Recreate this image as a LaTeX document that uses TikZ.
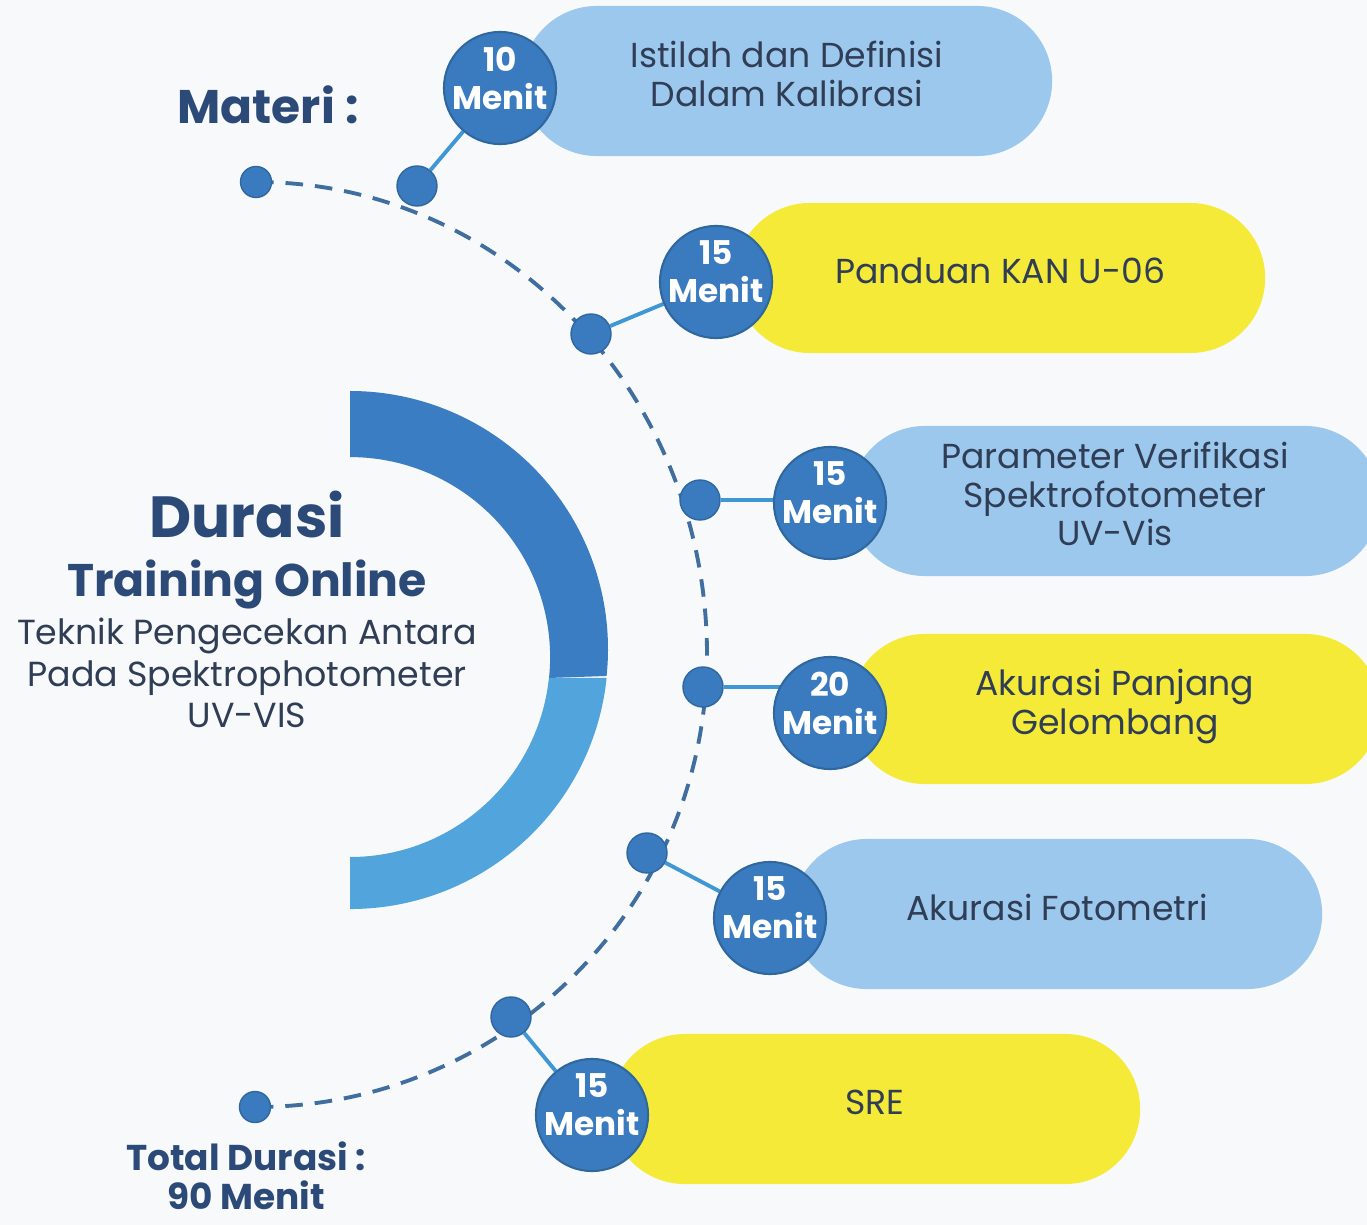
\documentclass[tikz,border=0pt]{standalone}
\usepackage{fontspec}
\setmainfont{Poppins}
\usetikzlibrary{backgrounds}
\definecolor{navy}{HTML}{2C4A78}
\definecolor{ink}{HTML}{2F3D55}
\definecolor{badgeblue}{HTML}{3A7BC0}
\definecolor{badgeline}{HTML}{2F679F}
\definecolor{paleblue}{HTML}{9DC8EE}
\definecolor{sunyellow}{HTML}{F5EA38}
\definecolor{ringdark}{HTML}{3A7DC3}
\definecolor{ringlight}{HTML}{52A4DD}
\definecolor{linkblue}{HTML}{3F97D6}
\definecolor{dashblue}{HTML}{3F6E9F}
\definecolor{paper}{HTML}{F8F9FB}

\begin{document}
\begin{tikzpicture}[
    x=0.01cm, y=0.01cm,
    pill/.style={rectangle, rounded corners=0.75cm, minimum width=5.3cm, minimum height=1.5cm, inner ysep=0pt, text=ink, align=center, font=\fontsize{9.85}{11}\selectfont, execute at end node={\rule[-4pt]{0pt}{4pt}}},
    bluepill/.style={pill, fill=paleblue},
    yellowpill/.style={pill, fill=sunyellow},
    badge/.style={circle, fill=badgeblue, draw=badgeline, line width=0.6pt, minimum size=1.12cm, inner sep=0pt, label={[badgetext]center:#1}},
    badgetext/.style={text=white, align=center, font=\fontsize{9.3}{10.8}\selectfont\bfseries, yshift=2.8pt},
    dot/.style={circle, fill=badgeblue, draw=badgeline, line width=0.4pt, minimum size=0.4cm, inner sep=0pt},
    enddot/.style={dot, minimum size=0.31cm},
    link/.style={linkblue, line width=1.1pt},
    dashline/.style={dashblue, line width=1.1pt, dash pattern=on 5pt off 3.4pt},
    title/.style={text=navy, align=center}
]
\begin{pgfonlayer}{background}
\path[use as bounding box, fill=paper] (0,0) rectangle (1367,-1225);
\end{pgfonlayer}
\clip (0,0) rectangle (1367,-1225);

\fill[ringdark] (350,-391) arc[start angle=90, end angle=-6, radius=258] -- (549,-678) arc[start angle=-6, end angle=90, radius=200] -- cycle;
\fill[ringlight] (606.6,-678) arc[start angle=-6, end angle=-90, radius=258] -- (350,-857) arc[start angle=-90, end angle=-6, radius=200] -- cycle;

\node[title, font=\fontsize{13.4}{15}\selectfont\bfseries] (materi) at (268,-105) {Materi :};
\node[title, font=\fontsize{16.5}{18}\selectfont\bfseries] (durasi) at (247,-514) {Durasi};
\node[title, font=\fontsize{13}{15}\selectfont\bfseries] (training) at (247,-584) {Training Online};
\node[title, text=ink, font=\fontsize{9.9}{11.7}\selectfont] (teknik) at (247,-673) {Teknik Pengecekan Antara\\Pada Spektrophotometer\\UV-VIS};
\node[title, font=\fontsize{10.2}{11.2}\selectfont\bfseries, inner sep=0pt] (total) at (246,-1176) {Total Durasi :\\90 Menit};

\node[bluepill] (istilah) at (787,-81) {Istilah dan Definisi\\Dalam Kalibrasi};
\node[yellowpill] (panduan) at (1000,-278) {Panduan KAN U-06};
\node[bluepill] (parameter) at (1115,-501) {Parameter Verifikasi\\Spektrofotometer\\UV-Vis};
\node[yellowpill] (panjang) at (1115,-709) {Akurasi Panjang\\Gelombang};
\node[bluepill] (fotometri) at (1057,-914) {Akurasi Fotometri};
\node[yellowpill] (sre) at (875,-1109) {SRE};

\node[badge={10\\Menit}] (b1) at (500,-88) {};
\node[badge={15\\Menit}] (b2) at (716,-282) {};
\node[badge={15\\Menit}] (b3) at (830,-503) {};
\node[badge={20\\Menit}] (b4) at (830,-713) {};
\node[badge={15\\Menit}] (b5) at (770,-918) {};
\node[badge={15\\Menit}] (b6) at (592,-1115) {};

\node[enddot] (start) at (256,-182) {};
\node[dot] (d1) at (417,-186) {};
\node[dot] (d2) at (591,-334) {};
\node[dot] (d3) at (700,-500) {};
\node[dot] (d4) at (703,-687) {};
\node[dot] (d5) at (647,-853) {};
\node[dot] (d6) at (511,-1017) {};
\node[enddot] (finish) at (255,-1107) {};

\begin{pgfonlayer}{background}
\draw[dashline] (start.center) arc[start angle=90, end angle=0, x radius=451, y radius=473] arc[start angle=0, end angle=-90, x radius=451, y radius=452];
\draw[link] (d1) -- (b1);
\draw[link] (d2) -- (b2);
\draw[link] (d3) -- (d3 -| b3);
\draw[link] (d4) -- (d4 -| b4);
\draw[link] (d5) -- (b5);
\draw[link] (d6) -- (b6);
\end{pgfonlayer}
\end{tikzpicture}
\end{document}
